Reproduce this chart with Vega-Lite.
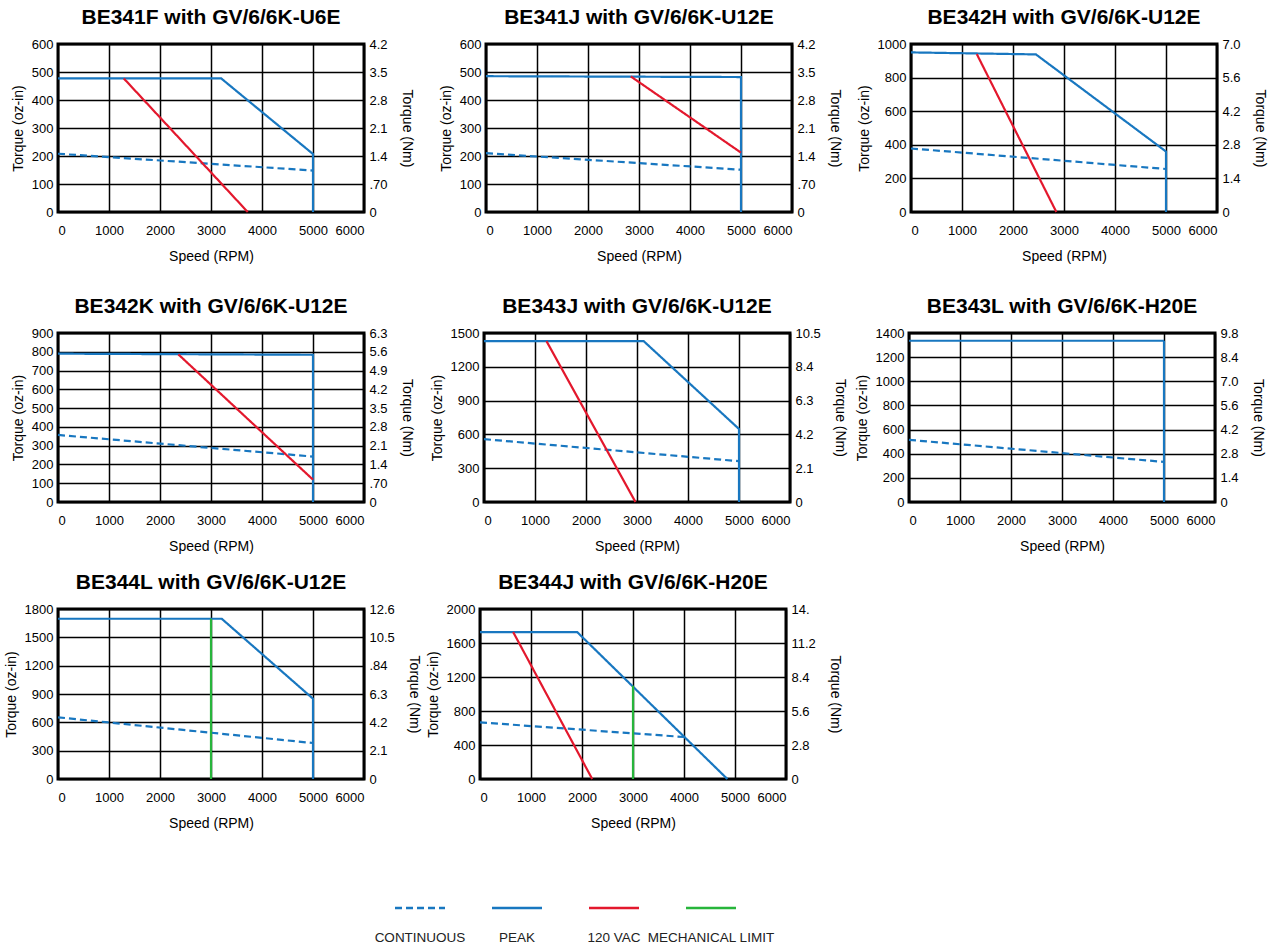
{
  "$schema": "https://vega.github.io/schema/vega-lite/v6.json",
  "background": "white",
  "padding": {"left": 2, "top": 5, "right": 5, "bottom": 0},
  "datasets": {
    "curves": [
      {"panel": "BE341F", "series": "PEAK", "seq": 1, "speed": 0, "torque": 477},
      {"panel": "BE341F", "series": "PEAK", "seq": 2, "speed": 3200, "torque": 477},
      {"panel": "BE341F", "series": "PEAK", "seq": 3, "speed": 5000, "torque": 207},
      {"panel": "BE341F", "series": "PEAK", "seq": 4, "speed": 5000, "torque": 0},
      {"panel": "BE341F", "series": "CONTINUOUS", "seq": 1, "speed": 0, "torque": 208},
      {"panel": "BE341F", "series": "CONTINUOUS", "seq": 2, "speed": 5000, "torque": 148},
      {"panel": "BE341F", "series": "120 VAC", "seq": 1, "speed": 1290, "torque": 477},
      {"panel": "BE341F", "series": "120 VAC", "seq": 2, "speed": 3720, "torque": 0},

      {"panel": "BE341J", "series": "PEAK", "seq": 1, "speed": 0, "torque": 485},
      {"panel": "BE341J", "series": "PEAK", "seq": 2, "speed": 5000, "torque": 482},
      {"panel": "BE341J", "series": "PEAK", "seq": 3, "speed": 5000, "torque": 0},
      {"panel": "BE341J", "series": "CONTINUOUS", "seq": 1, "speed": 0, "torque": 210},
      {"panel": "BE341J", "series": "CONTINUOUS", "seq": 2, "speed": 5000, "torque": 151},
      {"panel": "BE341J", "series": "120 VAC", "seq": 1, "speed": 2840, "torque": 484},
      {"panel": "BE341J", "series": "120 VAC", "seq": 2, "speed": 5000, "torque": 212},

      {"panel": "BE342H", "series": "PEAK", "seq": 1, "speed": 0, "torque": 950},
      {"panel": "BE342H", "series": "PEAK", "seq": 2, "speed": 2450, "torque": 938},
      {"panel": "BE342H", "series": "PEAK", "seq": 3, "speed": 5000, "torque": 360},
      {"panel": "BE342H", "series": "PEAK", "seq": 4, "speed": 5000, "torque": 0},
      {"panel": "BE342H", "series": "CONTINUOUS", "seq": 1, "speed": 0, "torque": 378},
      {"panel": "BE342H", "series": "CONTINUOUS", "seq": 2, "speed": 5000, "torque": 256},
      {"panel": "BE342H", "series": "120 VAC", "seq": 1, "speed": 1290, "torque": 940},
      {"panel": "BE342H", "series": "120 VAC", "seq": 2, "speed": 2850, "torque": 0},

      {"panel": "BE342K", "series": "PEAK", "seq": 1, "speed": 0, "torque": 790},
      {"panel": "BE342K", "series": "PEAK", "seq": 2, "speed": 5000, "torque": 784},
      {"panel": "BE342K", "series": "PEAK", "seq": 3, "speed": 5000, "torque": 0},
      {"panel": "BE342K", "series": "CONTINUOUS", "seq": 1, "speed": 0, "torque": 357},
      {"panel": "BE342K", "series": "CONTINUOUS", "seq": 2, "speed": 5000, "torque": 242},
      {"panel": "BE342K", "series": "120 VAC", "seq": 1, "speed": 2360, "torque": 786},
      {"panel": "BE342K", "series": "120 VAC", "seq": 2, "speed": 5000, "torque": 119},

      {"panel": "BE343J", "series": "PEAK", "seq": 1, "speed": 0, "torque": 1428},
      {"panel": "BE343J", "series": "PEAK", "seq": 2, "speed": 3130, "torque": 1428},
      {"panel": "BE343J", "series": "PEAK", "seq": 3, "speed": 5000, "torque": 648},
      {"panel": "BE343J", "series": "PEAK", "seq": 4, "speed": 5000, "torque": 0},
      {"panel": "BE343J", "series": "CONTINUOUS", "seq": 1, "speed": 0, "torque": 558},
      {"panel": "BE343J", "series": "CONTINUOUS", "seq": 2, "speed": 5000, "torque": 362},
      {"panel": "BE343J", "series": "120 VAC", "seq": 1, "speed": 1225, "torque": 1428},
      {"panel": "BE343J", "series": "120 VAC", "seq": 2, "speed": 2970, "torque": 0},

      {"panel": "BE343L", "series": "PEAK", "seq": 1, "speed": 0, "torque": 1336},
      {"panel": "BE343L", "series": "PEAK", "seq": 2, "speed": 5000, "torque": 1336},
      {"panel": "BE343L", "series": "PEAK", "seq": 3, "speed": 5000, "torque": 0},
      {"panel": "BE343L", "series": "CONTINUOUS", "seq": 1, "speed": 0, "torque": 515},
      {"panel": "BE343L", "series": "CONTINUOUS", "seq": 2, "speed": 5000, "torque": 332},

      {"panel": "BE344L", "series": "PEAK", "seq": 1, "speed": 0, "torque": 1697},
      {"panel": "BE344L", "series": "PEAK", "seq": 2, "speed": 3210, "torque": 1697},
      {"panel": "BE344L", "series": "PEAK", "seq": 3, "speed": 5000, "torque": 850},
      {"panel": "BE344L", "series": "PEAK", "seq": 4, "speed": 5000, "torque": 0},
      {"panel": "BE344L", "series": "CONTINUOUS", "seq": 1, "speed": 0, "torque": 653},
      {"panel": "BE344L", "series": "CONTINUOUS", "seq": 2, "speed": 5000, "torque": 381},
      {"panel": "BE344L", "series": "MECHANICAL LIMIT", "seq": 1, "speed": 3000, "torque": 0},
      {"panel": "BE344L", "series": "MECHANICAL LIMIT", "seq": 2, "speed": 3000, "torque": 1697},

      {"panel": "BE344J", "series": "PEAK", "seq": 1, "speed": 0, "torque": 1729},
      {"panel": "BE344J", "series": "PEAK", "seq": 2, "speed": 1905, "torque": 1729},
      {"panel": "BE344J", "series": "PEAK", "seq": 3, "speed": 4850, "torque": 0},
      {"panel": "BE344J", "series": "CONTINUOUS", "seq": 1, "speed": 0, "torque": 666},
      {"panel": "BE344J", "series": "CONTINUOUS", "seq": 2, "speed": 4000, "torque": 494},
      {"panel": "BE344J", "series": "120 VAC", "seq": 1, "speed": 650, "torque": 1729},
      {"panel": "BE344J", "series": "120 VAC", "seq": 2, "speed": 2200, "torque": 0},
      {"panel": "BE344J", "series": "MECHANICAL LIMIT", "seq": 1, "speed": 3000, "torque": 0},
      {"panel": "BE344J", "series": "MECHANICAL LIMIT", "seq": 2, "speed": 3000, "torque": 1098}
    ],
    "legend": [
      {"series": "CONTINUOUS"},
      {"series": "PEAK"},
      {"series": "120 VAC"},
      {"series": "MECHANICAL LIMIT"}
    ]
  },
  "data": {"name": "curves"},
  "config": {
    "font": "Liberation Sans",
    "view": {"stroke": "#000", "strokeWidth": 3},
    "axis": {
      "domain": false, "ticks": false, "grid": true,
      "gridColor": "#000", "gridWidth": 1.5, "gridOpacity": 1,
      "labelFontSize": 13, "labelColor": "#000", "labelPadding": 5,
      "titleFontSize": 14, "titleFontWeight": "normal", "titleColor": "#000", "titlePadding": 6
    },
    "axisX": {"labelPadding": 12, "titlePadding": 12},
    "axisRight": {"titlePadding": 12},
    "title": {"fontSize": 21, "fontWeight": "bold", "color": "#000", "offset": 10},
    "line": {"strokeWidth": 2.2}
  },
  "vconcat": [
    {
      "vconcat": [
        {
          "hconcat": [
            {
              "title": "BE341F with GV/6/6K-U6E",
              "width": 306, "height": 168,
              "transform": [{"filter": "datum.panel === 'BE341F'"}],
              "encoding": {
                "x": {"field": "speed", "type": "quantitative", "title": "Speed (RPM)", "scale": {"domain": [0, 6000], "nice": false}, "axis": {"values": [0, 1000, 2000, 3000, 4000, 5000, 6000], "format": "d"}},
                "color": {"field": "series", "type": "nominal", "legend": null, "scale": {"domain": ["CONTINUOUS", "PEAK", "120 VAC", "MECHANICAL LIMIT"], "range": ["#1877c0", "#1877c0", "#e3182d", "#27b53b"]}},
                "strokeDash": {"field": "series", "type": "nominal", "legend": null, "scale": {"domain": ["CONTINUOUS", "PEAK", "120 VAC", "MECHANICAL LIMIT"], "range": [[7, 4], [1, 0], [1, 0], [1, 0]]}},
                "order": {"field": "seq", "type": "quantitative"}
              },
              "layer": [
                {"mark": {"type": "line"}, "encoding": {"y": {"field": "torque", "type": "quantitative", "title": "Torque (oz-in)", "scale": {"domain": [0, 600], "nice": false}, "axis": {"values": [0, 100, 200, 300, 400, 500, 600], "format": "d"}}}},
                {"mark": {"type": "line", "strokeOpacity": 0}, "encoding": {"y": {"field": "torque", "type": "quantitative", "title": "Torque (Nm)", "scale": {"domain": [0, 600], "nice": false}, "axis": {"orient": "right", "grid": false, "values": [0, 100, 200, 300, 400, 500, 600], "labelExpr": "['0','.70','1.4','2.1','2.8','3.5','4.2'][round(datum.value/100)]"}}}}
              ],
              "resolve": {"axis": {"y": "independent"}}
            },
            {
              "hconcat": [
                {
                  "title": "BE341J with GV/6/6K-U12E",
                  "width": 306, "height": 168,
                  "transform": [{"filter": "datum.panel === 'BE341J'"}],
                  "encoding": {
                    "x": {"field": "speed", "type": "quantitative", "title": "Speed (RPM)", "scale": {"domain": [0, 6000], "nice": false}, "axis": {"values": [0, 1000, 2000, 3000, 4000, 5000, 6000], "format": "d"}},
                    "color": {"field": "series", "type": "nominal", "legend": null, "scale": {"domain": ["CONTINUOUS", "PEAK", "120 VAC", "MECHANICAL LIMIT"], "range": ["#1877c0", "#1877c0", "#e3182d", "#27b53b"]}},
                    "strokeDash": {"field": "series", "type": "nominal", "legend": null, "scale": {"domain": ["CONTINUOUS", "PEAK", "120 VAC", "MECHANICAL LIMIT"], "range": [[7, 4], [1, 0], [1, 0], [1, 0]]}},
                    "order": {"field": "seq", "type": "quantitative"}
                  },
                  "layer": [
                    {"mark": {"type": "line"}, "encoding": {"y": {"field": "torque", "type": "quantitative", "title": "Torque (oz-in)", "scale": {"domain": [0, 600], "nice": false}, "axis": {"values": [0, 100, 200, 300, 400, 500, 600], "format": "d"}}}},
                    {"mark": {"type": "line", "strokeOpacity": 0}, "encoding": {"y": {"field": "torque", "type": "quantitative", "title": "Torque (Nm)", "scale": {"domain": [0, 600], "nice": false}, "axis": {"orient": "right", "grid": false, "values": [0, 100, 200, 300, 400, 500, 600], "labelExpr": "['0','.70','1.4','2.1','2.8','3.5','4.2'][round(datum.value/100)]"}}}}
                  ],
                  "resolve": {"axis": {"y": "independent"}}
                },
                {
                  "title": "BE342H with GV/6/6K-U12E",
                  "width": 306, "height": 168,
                  "transform": [{"filter": "datum.panel === 'BE342H'"}],
                  "encoding": {
                    "x": {"field": "speed", "type": "quantitative", "title": "Speed (RPM)", "scale": {"domain": [0, 6000], "nice": false}, "axis": {"values": [0, 1000, 2000, 3000, 4000, 5000, 6000], "format": "d"}},
                    "color": {"field": "series", "type": "nominal", "legend": null, "scale": {"domain": ["CONTINUOUS", "PEAK", "120 VAC", "MECHANICAL LIMIT"], "range": ["#1877c0", "#1877c0", "#e3182d", "#27b53b"]}},
                    "strokeDash": {"field": "series", "type": "nominal", "legend": null, "scale": {"domain": ["CONTINUOUS", "PEAK", "120 VAC", "MECHANICAL LIMIT"], "range": [[7, 4], [1, 0], [1, 0], [1, 0]]}},
                    "order": {"field": "seq", "type": "quantitative"}
                  },
                  "layer": [
                    {"mark": {"type": "line"}, "encoding": {"y": {"field": "torque", "type": "quantitative", "title": "Torque (oz-in)", "scale": {"domain": [0, 1000], "nice": false}, "axis": {"values": [0, 200, 400, 600, 800, 1000], "format": "d"}}}},
                    {"mark": {"type": "line", "strokeOpacity": 0}, "encoding": {"y": {"field": "torque", "type": "quantitative", "title": "Torque (Nm)", "scale": {"domain": [0, 1000], "nice": false}, "axis": {"orient": "right", "grid": false, "values": [0, 200, 400, 600, 800, 1000], "labelExpr": "['0','1.4','2.8','4.2','5.6','7.0'][round(datum.value/200)]"}}}}
                  ],
                  "resolve": {"axis": {"y": "independent"}}
                }
              ],
              "spacing": 12
            }
          ],
          "spacing": 22
        },
        {
          "vconcat": [
            {
              "hconcat": [
                {
                  "title": "BE342K with GV/6/6K-U12E",
                  "width": 306, "height": 169,
                  "transform": [{"filter": "datum.panel === 'BE342K'"}],
                  "encoding": {
                    "x": {"field": "speed", "type": "quantitative", "title": "Speed (RPM)", "scale": {"domain": [0, 6000], "nice": false}, "axis": {"values": [0, 1000, 2000, 3000, 4000, 5000, 6000], "format": "d"}},
                    "color": {"field": "series", "type": "nominal", "legend": null, "scale": {"domain": ["CONTINUOUS", "PEAK", "120 VAC", "MECHANICAL LIMIT"], "range": ["#1877c0", "#1877c0", "#e3182d", "#27b53b"]}},
                    "strokeDash": {"field": "series", "type": "nominal", "legend": null, "scale": {"domain": ["CONTINUOUS", "PEAK", "120 VAC", "MECHANICAL LIMIT"], "range": [[7, 4], [1, 0], [1, 0], [1, 0]]}},
                    "order": {"field": "seq", "type": "quantitative"}
                  },
                  "layer": [
                    {"mark": {"type": "line"}, "encoding": {"y": {"field": "torque", "type": "quantitative", "title": "Torque (oz-in)", "scale": {"domain": [0, 900], "nice": false}, "axis": {"values": [0, 100, 200, 300, 400, 500, 600, 700, 800, 900], "format": "d"}}}},
                    {"mark": {"type": "line", "strokeOpacity": 0}, "encoding": {"y": {"field": "torque", "type": "quantitative", "title": "Torque (Nm)", "scale": {"domain": [0, 900], "nice": false}, "axis": {"orient": "right", "grid": false, "values": [0, 100, 200, 300, 400, 500, 600, 700, 800, 900], "labelExpr": "['0','.70','1.4','2.1','2.8','3.5','4.2','4.9','5.6','6.3'][round(datum.value/100)]"}}}}
                  ],
                  "resolve": {"axis": {"y": "independent"}}
                },
                {
                  "hconcat": [
                    {
                      "title": "BE343J with GV/6/6K-U12E",
                      "width": 306, "height": 169,
                      "transform": [{"filter": "datum.panel === 'BE343J'"}],
                      "encoding": {
                        "x": {"field": "speed", "type": "quantitative", "title": "Speed (RPM)", "scale": {"domain": [0, 6000], "nice": false}, "axis": {"values": [0, 1000, 2000, 3000, 4000, 5000, 6000], "format": "d"}},
                        "color": {"field": "series", "type": "nominal", "legend": null, "scale": {"domain": ["CONTINUOUS", "PEAK", "120 VAC", "MECHANICAL LIMIT"], "range": ["#1877c0", "#1877c0", "#e3182d", "#27b53b"]}},
                        "strokeDash": {"field": "series", "type": "nominal", "legend": null, "scale": {"domain": ["CONTINUOUS", "PEAK", "120 VAC", "MECHANICAL LIMIT"], "range": [[7, 4], [1, 0], [1, 0], [1, 0]]}},
                        "order": {"field": "seq", "type": "quantitative"}
                      },
                      "layer": [
                        {"mark": {"type": "line"}, "encoding": {"y": {"field": "torque", "type": "quantitative", "title": "Torque (oz-in)", "scale": {"domain": [0, 1500], "nice": false}, "axis": {"values": [0, 300, 600, 900, 1200, 1500], "format": "d"}}}},
                        {"mark": {"type": "line", "strokeOpacity": 0}, "encoding": {"y": {"field": "torque", "type": "quantitative", "title": "Torque (Nm)", "scale": {"domain": [0, 1500], "nice": false}, "axis": {"orient": "right", "grid": false, "values": [0, 300, 600, 900, 1200, 1500], "labelExpr": "['0','2.1','4.2','6.3','8.4','10.5'][round(datum.value/300)]"}}}}
                      ],
                      "resolve": {"axis": {"y": "independent"}}
                    },
                    {
                      "title": "BE343L with GV/6/6K-H20E",
                      "width": 306, "height": 169,
                      "transform": [{"filter": "datum.panel === 'BE343L'"}],
                      "encoding": {
                        "x": {"field": "speed", "type": "quantitative", "title": "Speed (RPM)", "scale": {"domain": [0, 6000], "nice": false}, "axis": {"values": [0, 1000, 2000, 3000, 4000, 5000, 6000], "format": "d"}},
                        "color": {"field": "series", "type": "nominal", "legend": null, "scale": {"domain": ["CONTINUOUS", "PEAK", "120 VAC", "MECHANICAL LIMIT"], "range": ["#1877c0", "#1877c0", "#e3182d", "#27b53b"]}},
                        "strokeDash": {"field": "series", "type": "nominal", "legend": null, "scale": {"domain": ["CONTINUOUS", "PEAK", "120 VAC", "MECHANICAL LIMIT"], "range": [[7, 4], [1, 0], [1, 0], [1, 0]]}},
                        "order": {"field": "seq", "type": "quantitative"}
                      },
                      "layer": [
                        {"mark": {"type": "line"}, "encoding": {"y": {"field": "torque", "type": "quantitative", "title": "Torque (oz-in)", "scale": {"domain": [0, 1400], "nice": false}, "axis": {"values": [0, 200, 400, 600, 800, 1000, 1200, 1400], "format": "d"}}}},
                        {"mark": {"type": "line", "strokeOpacity": 0}, "encoding": {"y": {"field": "torque", "type": "quantitative", "title": "Torque (Nm)", "scale": {"domain": [0, 1400], "nice": false}, "axis": {"orient": "right", "grid": false, "values": [0, 200, 400, 600, 800, 1000, 1200, 1400], "labelExpr": "['0','1.4','2.8','4.2','5.6','7.0','8.4','9.8'][round(datum.value/200)]"}}}}
                      ],
                      "resolve": {"axis": {"y": "independent"}}
                    }
                  ],
                  "spacing": 5
                }
              ],
              "spacing": 13
            },
            {
              "hconcat": [
                {
                  "title": "BE344L with GV/6/6K-U12E",
                  "width": 306, "height": 170,
                  "transform": [{"filter": "datum.panel === 'BE344L'"}],
                  "encoding": {
                    "x": {"field": "speed", "type": "quantitative", "title": "Speed (RPM)", "scale": {"domain": [0, 6000], "nice": false}, "axis": {"values": [0, 1000, 2000, 3000, 4000, 5000, 6000], "format": "d"}},
                    "color": {"field": "series", "type": "nominal", "legend": null, "scale": {"domain": ["CONTINUOUS", "PEAK", "120 VAC", "MECHANICAL LIMIT"], "range": ["#1877c0", "#1877c0", "#e3182d", "#27b53b"]}},
                    "strokeDash": {"field": "series", "type": "nominal", "legend": null, "scale": {"domain": ["CONTINUOUS", "PEAK", "120 VAC", "MECHANICAL LIMIT"], "range": [[7, 4], [1, 0], [1, 0], [1, 0]]}},
                    "order": {"field": "seq", "type": "quantitative"}
                  },
                  "layer": [
                    {"mark": {"type": "line"}, "encoding": {"y": {"field": "torque", "type": "quantitative", "title": "Torque (oz-in)", "scale": {"domain": [0, 1800], "nice": false}, "axis": {"values": [0, 300, 600, 900, 1200, 1500, 1800], "format": "d"}}}},
                    {"mark": {"type": "line", "strokeOpacity": 0}, "encoding": {"y": {"field": "torque", "type": "quantitative", "title": "Torque (Nm)", "scale": {"domain": [0, 1800], "nice": false}, "axis": {"orient": "right", "grid": false, "values": [0, 300, 600, 900, 1200, 1500, 1800], "labelExpr": "['0','2.1','4.2','6.3','.84','10.5','12.6'][round(datum.value/300)]"}}}}
                  ],
                  "resolve": {"axis": {"y": "independent"}}
                },
                {
                  "title": "BE344J with GV/6/6K-H20E",
                  "width": 306, "height": 170,
                  "transform": [{"filter": "datum.panel === 'BE344J'"}],
                  "encoding": {
                    "x": {"field": "speed", "type": "quantitative", "title": "Speed (RPM)", "scale": {"domain": [0, 6000], "nice": false}, "axis": {"values": [0, 1000, 2000, 3000, 4000, 5000, 6000], "format": "d"}},
                    "color": {"field": "series", "type": "nominal", "legend": null, "scale": {"domain": ["CONTINUOUS", "PEAK", "120 VAC", "MECHANICAL LIMIT"], "range": ["#1877c0", "#1877c0", "#e3182d", "#27b53b"]}},
                    "strokeDash": {"field": "series", "type": "nominal", "legend": null, "scale": {"domain": ["CONTINUOUS", "PEAK", "120 VAC", "MECHANICAL LIMIT"], "range": [[7, 4], [1, 0], [1, 0], [1, 0]]}},
                    "order": {"field": "seq", "type": "quantitative"}
                  },
                  "layer": [
                    {"mark": {"type": "line"}, "encoding": {"y": {"field": "torque", "type": "quantitative", "title": "Torque (oz-in)", "scale": {"domain": [0, 2000], "nice": false}, "axis": {"values": [0, 400, 800, 1200, 1600, 2000], "format": "d"}}}},
                    {"mark": {"type": "line", "strokeOpacity": 0}, "encoding": {"y": {"field": "torque", "type": "quantitative", "title": "Torque (Nm)", "scale": {"domain": [0, 2000], "nice": false}, "axis": {"orient": "right", "grid": false, "values": [0, 400, 800, 1200, 1600, 2000], "labelExpr": "['0','2.8','5.6','8.4','11.2','14.'][round(datum.value/400)]"}}}}
                  ],
                  "resolve": {"axis": {"y": "independent"}}
                }
              ],
              "spacing": 2
            }
          ],
          "spacing": 15
        }
      ],
      "spacing": 29
    },
    {
      "width": 700, "height": 60,
      "data": {"name": "legend"},
      "encoding": {
        "x": {"field": "series", "type": "nominal", "axis": null, "scale": {"type": "point", "domain": ["CONTINUOUS", "PEAK", "120 VAC", "MECHANICAL LIMIT"], "range": [362, 653], "padding": 0}}
      },
      "layer": [
        {
          "mark": {"type": "point", "shape": "stroke", "size": 2500, "strokeWidth": 2.5, "filled": false, "opacity": 1},
          "encoding": {
            "color": {"field": "series", "type": "nominal", "legend": null, "scale": {"domain": ["CONTINUOUS", "PEAK", "120 VAC", "MECHANICAL LIMIT"], "range": ["#1877c0", "#1877c0", "#e3182d", "#27b53b"]}},
            "strokeDash": {"field": "series", "type": "nominal", "legend": null, "scale": {"domain": ["CONTINUOUS", "PEAK", "120 VAC", "MECHANICAL LIMIT"], "range": [[7, 4], [1, 0], [1, 0], [1, 0]]}}
          }
        },
        {
          "mark": {"type": "text", "dy": 30, "fontSize": 13.5, "color": "#222"},
          "encoding": {"text": {"field": "series", "type": "nominal"}}
        }
      ],
      "view": {"stroke": null}
    }
  ],
  "spacing": 46
}
